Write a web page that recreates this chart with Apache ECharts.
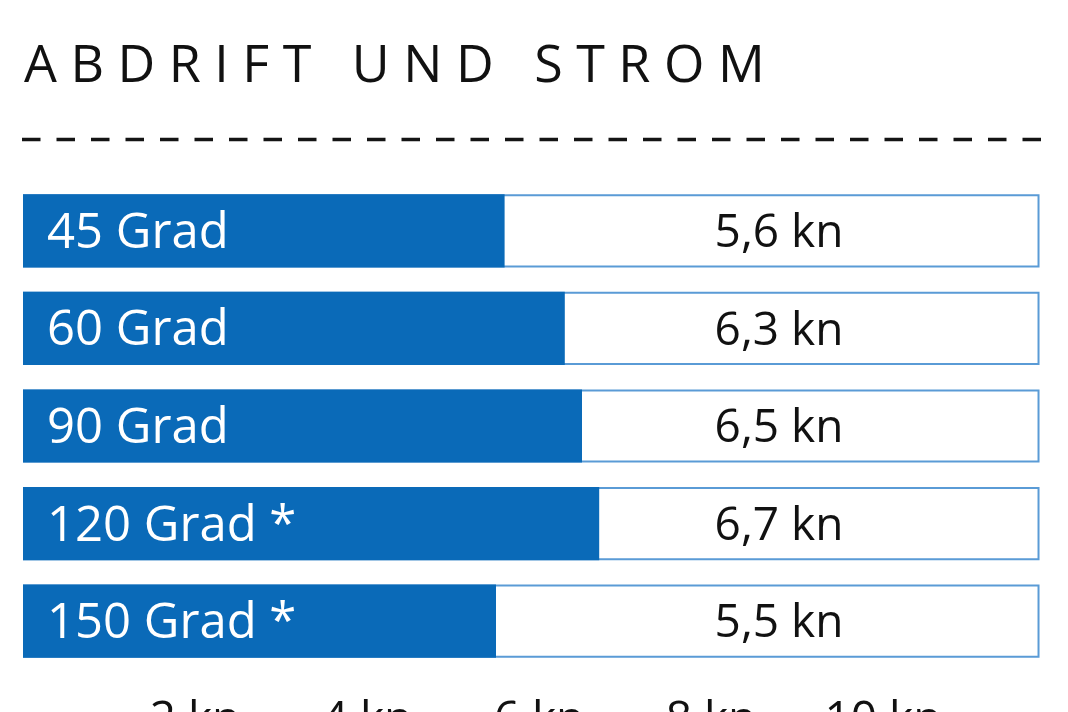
<!DOCTYPE html>
<html>
<head>
<meta charset="utf-8">
<script src="https://cdn.jsdelivr.net/npm/echarts@6/dist/echarts.min.js"></script>
<style>html,body{margin:0;padding:0;background:#fff}#c{width:1068px;height:712px}</style>
</head>
<body>
<div id="c"></div>
<script>
var categories = ['45 Grad', '60 Grad', '90 Grad', '120 Grad *', '150 Grad *'];
var values = [5.6, 6.3, 6.5, 6.7, 5.5];
var valueLabels = ['5,6 kn', '6,3 kn', '6,5 kn', '6,7 kn', '5,5 kn'];
var frameValues = [11.82, 11.82, 11.82, 11.82, 11.82];
var tickLabels = {2: '2 kn', 4: '4 kn', 6: '6 kn', 8: '8 kn', 10: '10 kn'};
var titleText = 'A B D R I F T   U N D   S T R O M';

var FONT = "'Open Sans', 'Noto Sans', sans-serif";
var chart = echarts.init(document.getElementById('c'), null, {renderer: 'canvas'});
chart.setOption({
  animation: false,
  backgroundColor: '#ffffff',
  title: {
    text: titleText,
    left: 19,
    top: 36,
    textStyle: {fontFamily: FONT, fontSize: 52, fontWeight: 'normal', color: '#111111'}
  },
  graphic: [{
    type: 'line',
    shape: {x1: 22, y1: 139.5, x2: 1042, y2: 139.5},
    style: {stroke: '#141414', lineWidth: 3.5, lineDash: [18.5, 16]}
  }],
  grid: {left: 23, right: 13, top: 182, bottom: 42, outerBoundsMode: 'none'},
  xAxis: {
    type: 'value', min: 0, max: 12, interval: 2,
    axisLine: {show: false}, axisTick: {show: false}, splitLine: {show: false},
    axisLabel: {
      showMinLabel: false, showMaxLabel: false, margin: 28,
      fontFamily: FONT, fontSize: 46, color: '#111111',
      formatter: function (v) { return tickLabels[v] || ''; }
    }
  },
  yAxis: {
    type: 'category', data: categories, inverse: true, show: false
  },
  series: [{
    type: 'bar',
    data: frameValues,
    barCategoryGap: '25%',
    barGap: '-100%',
    silent: true,
    itemStyle: {color: '#ffffff', borderColor: '#5a9bd6', borderWidth: 2},
    label: {
      show: true,
      position: [756, '50%'],
      align: 'center', verticalAlign: 'middle',
      offset: [0, 3],
      fontFamily: FONT, fontSize: 46, color: '#111111',
      formatter: function (p) { return valueLabels[p.dataIndex]; }
    },
    z: 1
  }, {
    type: 'bar',
    data: values,
    barCategoryGap: '25%',
    barGap: '-100%',
    itemStyle: {color: '#0a6ab8'},
    label: {
      show: true,
      position: 'insideLeft',
      distance: 24,
      offset: [0, 3],
      fontFamily: FONT, fontSize: 49, color: '#ffffff',
      formatter: function (p) { return categories[p.dataIndex]; }
    },
    z: 2
  }]
});
</script>
</body>
</html>
